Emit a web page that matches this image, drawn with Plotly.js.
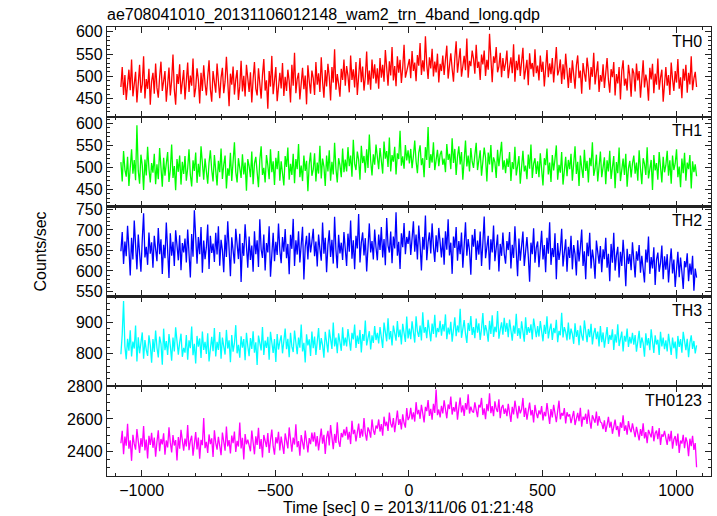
<!DOCTYPE html>
<html><head><meta charset="utf-8">
<script src="https://cdn.plot.ly/plotly-3.0.1.min.js"></script>
<style>html,body{margin:0;padding:0;background:#fff}#c{width:717px;height:516px}</style>
</head><body><div id="c"></div>
<script>
var chartTitle = "ae708041010_20131106012148_wam2_trn_4band_long.qdp";
var bandNames = ["TH0","TH1","TH2","TH3","TH0123"];
var timeStart = -1078, timeStep = 5;
var xTicks = [-1000,-500,0,500,1000];

var th0 = [476,521,458,503,447,492,515,469,538,455,487,510,441,498,526,463,482,545,450,494,472,517,436,489,
508,461,529,474,452,499,533,467,486,512,443,478,520,457,491,549,470,436,505,483,527,460,496,514,
448,487,531,465,502,479,540,453,474,518,492,439,508,467,525,484,457,499,536,471,443,512,488,463,
529,476,451,497,519,462,488,544,470,433,506,481,522,459,493,514,447,478,535,466,501,455,526,487,
465,509,441,494,532,472,457,518,486,450,503,539,468,491,427,512,477,546,460,495,521,444,485,508,
473,530,456,499,467,515,489,441,526,479,553,462,494,508,448,484,519,471,502,437,525,490,461,513,
496,458,532,481,507,465,543,488,452,514,477,528,499,446,521,486,561,470,505,483,454,517,492,538,
479,523,501,464,547,492,516,475,532,458,509,541,487,522,468,499,556,481,513,470,538,495,527,484,
518,472,541,497,526,488,559,510,479,534,502,566,491,523,478,545,508,537,485,520,571,497,513,532,
539,496,557,512,531,489,548,524,575,503,536,511,590,527,494,543,518,562,500,533,509,551,486,528,
512,547,503,538,569,495,526,552,517,488,541,579,508,530,563,499,521,546,514,585,497,535,523,558,
540,506,571,519,533,492,549,527,558,501,537,515,596,524,487,545,530,566,509,522,553,498,541,512,
529,558,496,521,543,507,572,488,535,514,549,501,526,564,493,518,537,480,552,516,530,499,561,507,
524,491,547,510,533,477,516,559,498,529,505,541,486,520,566,502,514,538,483,527,493,551,509,474,
519,485,536,501,472,524,547,496,513,461,530,507,488,542,515,470,521,499,553,482,510,534,465,503,
488,527,474,509,541,492,463,516,498,532,457,505,484,521,448,512,536,479,495,468,526,501,454,518,
507,466,529,491,512,452,498,536,475,504,487,445,519,493,528,462,506,481,540,470,497,515,443,488,
521,479,503,458,531,494,467,512,486,539,472,498,451,517,490,526,463,508,482,545,469,495,510,476];

var th1 = [512,468,537,495,479,524,458,503,541,486,517,471,596,492,463,529,505,449,518,482,547,497,466,510,
488,531,462,507,473,544,499,456,522,481,509,535,467,494,552,476,503,448,519,490,527,461,513,485,
526,470,498,541,483,457,516,492,534,465,508,479,548,501,472,520,487,463,511,539,494,468,528,497,
459,515,489,543,474,506,527,452,498,481,533,469,512,557,490,466,521,503,476,530,484,511,447,519,
503,478,536,462,509,524,491,455,517,548,483,499,466,528,505,473,541,489,514,460,522,496,537,470,
514,487,459,526,501,545,472,508,483,531,464,519,496,553,478,504,469,527,492,515,446,507,534,481,
495,532,468,511,486,549,475,520,502,458,527,491,539,470,513,484,556,497,466,521,505,478,543,489,
518,491,546,503,527,479,563,508,494,536,517,472,549,510,526,488,541,499,575,515,482,530,506,552,
523,496,544,511,486,559,520,537,501,568,491,528,513,547,484,532,519,583,504,525,497,551,516,539,
509,542,498,526,561,514,487,533,550,505,521,478,546,517,592,499,530,511,557,494,524,540,503,529,
538,506,520,489,553,517,531,496,566,510,542,483,524,548,507,535,472,519,561,502,527,491,544,513,
499,528,556,494,517,539,481,510,545,522,468,534,507,551,489,523,512,476,540,503,529,558,495,516,
487,520,501,535,469,512,496,547,482,509,526,463,515,538,491,504,473,529,497,552,476,508,521,485,
514,478,532,496,459,521,505,543,484,511,467,528,493,519,550,472,506,488,535,461,502,524,480,517,
496,531,470,509,548,485,513,458,527,499,476,540,492,515,466,522,503,557,481,497,529,468,510,536,
478,507,523,462,516,491,538,474,501,526,453,512,487,545,469,504,520,483,531,456,498,515,477,509,
527,486,511,470,539,497,462,521,508,483,546,475,499,517,449,528,493,510,472,535,501,466,524,489,
505,538,481,516,463,527,494,509,541,478,502,455,520,487,533,470,511,496,528,452,514,489,507,480];

var th2 = [648,695,617,672,636,710,655,589,681,628,723,662,604,689,645,598,676,741,633,659,615,694,642,670,
608,686,653,624,705,641,677,593,664,631,718,650,583,692,637,671,612,699,656,626,687,602,668,645,
679,621,701,649,584,690,635,748,662,618,683,641,707,596,674,629,658,713,605,686,644,667,622,693,
640,709,613,676,651,597,688,634,721,660,587,682,646,618,703,655,629,691,573,668,637,714,652,608,
684,627,662,598,697,641,675,610,726,653,632,689,601,668,645,709,586,657,693,624,671,639,716,650,
619,683,647,702,631,666,592,688,654,727,612,675,640,697,621,664,708,579,659,686,628,693,645,671,
703,636,672,611,689,654,625,718,642,681,597,663,699,634,676,618,732,651,607,688,643,669,627,695,
659,612,691,647,723,630,675,604,686,655,739,621,669,694,638,680,599,662,716,645,673,628,701,657,
626,689,651,707,633,678,614,729,662,645,696,619,684,655,743,637,671,605,692,658,717,641,683,666,
698,639,675,721,647,689,628,711,664,601,683,652,735,626,670,694,643,716,658,622,687,646,705,667,
633,681,615,697,652,726,638,669,593,684,656,707,625,673,641,694,608,662,719,637,678,650,591,688,
659,702,627,674,640,696,612,668,733,631,655,686,603,677,645,711,624,658,689,599,666,637,694,642,
618,673,651,695,606,664,632,709,647,587,679,625,661,696,612,648,683,636,574,669,641,704,620,657,
672,609,654,698,628,663,597,681,642,719,615,656,634,692,580,668,627,651,703,611,645,677,598,659,
632,686,604,663,641,589,675,623,657,701,612,648,580,669,636,693,606,652,627,581,674,645,618,661,
597,653,629,681,608,642,575,666,620,693,601,638,659,584,647,612,676,629,563,654,617,641,602,670,
611,584,648,625,663,596,637,609,572,652,621,684,593,634,606,658,566,627,645,598,619,662,580,636,
603,641,572,619,655,594,628,561,612,647,585,633,598,556,624,609,643,575,618,591,637,552,606,584];

var th3 = [798,861,966,823,782,847,809,874,791,838,816,889,775,852,801,829,867,784,843,812,793,858,827,771,
846,805,873,819,788,854,832,765,879,811,840,796,862,824,778,851,807,883,829,797,835,863,790,818,
803,859,781,842,817,886,795,831,769,856,822,848,786,870,812,837,799,864,775,826,853,808,881,791,
837,812,868,784,851,823,797,875,816,842,773,859,806,833,890,801,828,787,855,819,846,779,866,824,
792,849,815,871,803,836,764,857,825,810,884,796,841,818,853,781,869,827,802,846,774,862,813,838,
858,801,832,879,814,847,789,866,822,805,873,836,798,851,819,892,807,834,772,861,826,845,793,870,
817,854,796,838,881,812,849,827,787,869,833,804,876,842,815,898,823,851,801,864,836,809,883,825,
851,823,878,837,809,866,845,892,818,857,831,875,804,862,840,905,826,849,871,813,858,834,887,843,
866,832,884,851,818,898,857,839,912,845,871,826,889,863,841,903,852,876,829,894,858,837,917,848,
879,846,902,861,835,918,870,853,889,842,931,866,884,849,907,872,839,895,862,923,851,881,868,904,
857,893,870,924,846,882,861,901,838,876,915,855,889,867,942,850,878,906,863,834,897,872,919,859,
884,849,911,866,896,843,879,928,857,890,871,838,904,862,921,853,885,868,935,847,876,899,860,913,
869,897,852,908,874,841,889,863,926,856,881,847,902,870,838,915,859,884,866,893,845,911,876,852,
887,854,903,867,839,891,862,918,848,876,895,843,881,865,907,836,872,858,929,851,884,869,842,898,
845,879,862,831,896,853,874,827,889,858,841,905,866,836,878,852,894,829,863,881,846,870,823,887,
836,867,819,852,884,831,859,843,877,812,861,835,893,824,849,870,807,856,838,879,821,853,832,866,
828,859,806,845,872,818,851,833,790,864,826,849,811,877,835,802,858,829,844,796,869,823,851,814,
842,807,863,825,796,851,817,838,784,856,821,846,803,869,829,811,847,789,834,858,815,840,801,826];

var th0123 = [2451,2527,2384,2492,2436,2571,2418,2469,2343,2503,2447,2412,2538,2465,2391,2482,2429,2556,2407,2474,2358,2497,2440,2515,
2423,2486,2369,2459,2531,2402,2477,2444,2512,2381,2468,2425,2549,2456,2394,2501,2437,2470,2346,2489,2418,2533,2452,2406,
2479,2431,2562,2408,2465,2497,2375,2448,2520,2413,2486,2356,2472,2439,2606,2421,2459,2392,2505,2446,2481,2367,2530,2453,
2412,2491,2444,2378,2517,2463,2405,2554,2432,2470,2389,2498,2451,2523,2397,2466,2431,2578,2419,2484,2352,2507,2445,2473,
2437,2402,2529,2458,2383,2493,2441,2546,2416,2477,2364,2502,2455,2428,2514,2392,2469,2535,2433,2381,2488,2450,2521,2407,
2492,2435,2386,2511,2462,2419,2548,2473,2399,2486,2443,2567,2427,2464,2375,2501,2452,2413,2529,2468,2394,2483,2446,2516,
2461,2518,2432,2495,2407,2476,2541,2449,2503,2386,2486,2527,2438,2563,2471,2414,2508,2453,2579,2462,2429,2514,2488,2536,
2498,2552,2473,2521,2446,2589,2507,2534,2462,2516,2571,2483,2540,2492,2605,2511,2467,2548,2526,2485,2597,2531,2503,2560,
2541,2597,2523,2568,2498,2614,2556,2583,2527,2639,2571,2548,2606,2519,2585,2652,2564,2599,2536,2628,2575,2547,2667,2593,
2612,2668,2597,2641,2584,2703,2629,2656,2601,2687,2635,2579,2674,2648,2716,2619,2662,2595,2693,2637,2781,2623,2658,2609,
2681,2634,2715,2652,2604,2689,2661,2738,2627,2672,2645,2706,2596,2668,2731,2640,2683,2619,2697,2657,2752,2633,2676,2648,
2639,2702,2655,2611,2687,2671,2729,2624,2665,2598,2692,2648,2757,2636,2679,2617,2708,2662,2643,2721,2605,2669,2686,2631,
2664,2617,2693,2641,2582,2675,2628,2712,2650,2603,2681,2634,2659,2729,2612,2668,2596,2647,2701,2622,2655,2578,2686,2637,
2605,2652,2628,2679,2591,2643,2617,2698,2634,2569,2661,2609,2687,2626,2581,2648,2712,2598,2637,2620,2667,2573,2641,2615,
2628,2574,2612,2649,2563,2601,2637,2586,2669,2552,2614,2595,2632,2570,2658,2589,2541,2623,2604,2577,2646,2559,2617,2582,
2575,2538,2592,2521,2564,2613,2547,2583,2509,2568,2596,2532,2557,2491,2579,2546,2622,2527,2561,2504,2587,2540,2519,2573,
2524,2489,2551,2507,2468,2538,2496,2573,2481,2519,2452,2533,2502,2487,2556,2463,2512,2529,2476,2544,2441,2506,2491,2527,
2482,2441,2509,2463,2527,2418,2474,2495,2436,2511,2392,2468,2449,2503,2421,2487,2456,2372,2479,2433,2497,2410,2452,2304];

var yTicks = [[450,500,550,600],[450,500,550,600],[550,600,650,700,750],[800,900],[2400,2600,2800]];

(function(){
var series = [th0, th1, th2, th3, th0123];
var colors = ["#ff0000","#00ff00","#0000ff","#00ffff","#ff00ff"];
var yRanges = [[409,611],[411,615],[538,757],[697,981],[2250,2801]];
var yMinor = [10,10,10,20,50];

var FONT = "Liberation Sans, Arial, Helvetica, sans-serif";
var traces = [], layout = {
  width:717, height:516, showlegend:false,
  paper_bgcolor:"#fff", plot_bgcolor:"#fff",
  margin:{l:107, r:6, t:27, b:40},
  font:{family:FONT, size:16, color:"#000"},
  title:{text:chartTitle, x:107/717, xanchor:"left", y:1-14/516, yanchor:"middle", font:{family:FONT,size:16,color:"#000"}},
  annotations:[]
};
for (var k=0;k<5;k++){
  var ys = series[k], xs = [];
  for (var i=0;i<ys.length;i++) xs.push(timeStart + timeStep*i);
  var sfx = k===0 ? "" : String(k+1);
  traces.push({x:xs, y:ys, type:"scatter", mode:"lines", line:{color:colors[k], width:1.3}, xaxis:"x"+sfx, yaxis:"y"+sfx, hoverinfo:"skip"});
  var dTop = Math.min(1, Math.max(0, 1 - 0.2*k)), dBot = Math.min(1, Math.max(0, 1 - 0.2*(k+1)));
  var xa = {
    domain:[0,1], anchor:"y"+sfx, range:[-1130,1131], tickvals:xTicks,
    ticks:"inside", ticklen:6, tickwidth:1, tickcolor:"#222",
    showline:true, linecolor:"#222", linewidth:1.2, mirror:"ticks", zeroline:false, showgrid:false,
    showticklabels:(k===4), tickfont:{family:FONT,size:16,color:"#000"},
    minor:{dtick:100, tick0:0, ticks:"inside", ticklen:3, tickcolor:"#222", showgrid:false}
  };
  if (k>0) xa.matches = "x";
  layout["xaxis"+sfx] = xa;
  layout["yaxis"+sfx] = {
    domain:[dBot, dTop], anchor:"x"+sfx, range:yRanges[k], tickvals:yTicks[k],
    ticks:"inside", ticklen:6, tickwidth:1, tickcolor:"#222",
    showline:true, linecolor:"#222", linewidth:1.2, mirror:"ticks", zeroline:false, showgrid:false,
    tickfont:{family:FONT,size:16,color:"#000"},
    minor:{dtick:yMinor[k], ticks:"inside", ticklen:3, tickcolor:"#222", showgrid:false}
  };
  layout.annotations.push({text:bandNames[k], xref:"paper", yref:"paper", x:1-0.012, y:dTop-0.008, xanchor:"right", yanchor:"top", showarrow:false, font:{family:FONT,size:16,color:"#000"}});
}
layout.annotations.push({text:"Counts/sec", xref:"paper", yref:"paper", x:-67/604, y:0.5, textangle:-90, xanchor:"center", yanchor:"middle", showarrow:false, font:{family:FONT,size:16,color:"#000"}});
layout.annotations.push({text:"Time [sec] 0 = 2013/11/06 01:21:48", xref:"paper", yref:"paper", x:(408-107)/604, y:-31/449, xanchor:"center", yanchor:"middle", showarrow:false, font:{family:FONT,size:16,color:"#000"}});
Plotly.newPlot("c", traces, layout, {staticPlot:true, displayModeBar:false});
})();
</script></body></html>
